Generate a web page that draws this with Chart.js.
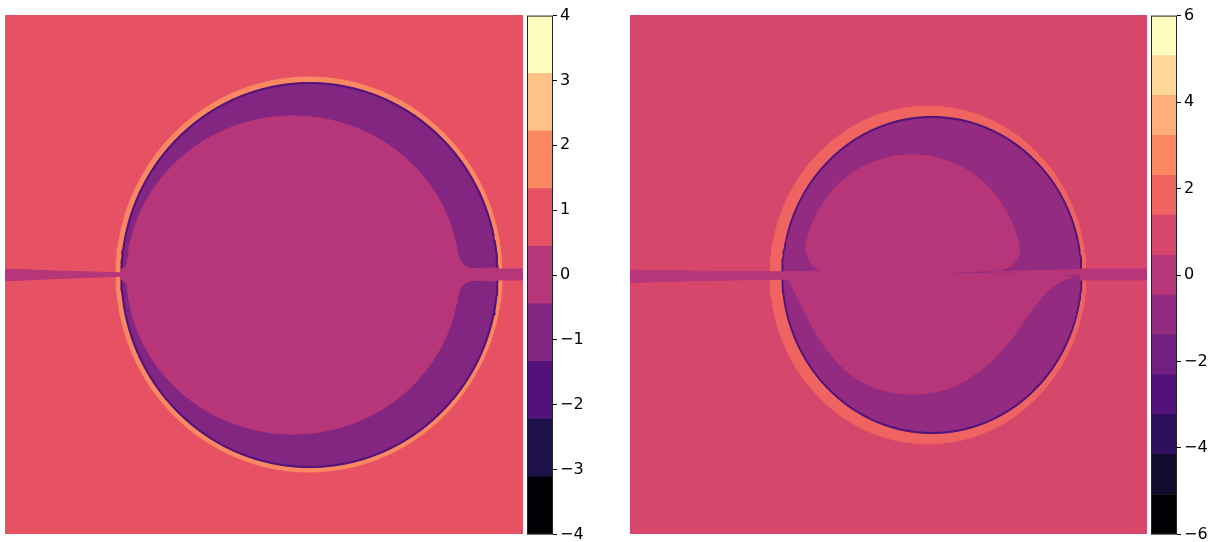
<!DOCTYPE html>
<html>
<head>
<meta charset="utf-8">
<script src="https://cdn.jsdelivr.net/npm/chart.js@4"></script>
<style>
  body { margin: 0; width: 1209px; height: 542px; overflow: hidden; background: #fff; position: relative; }
  canvas { position: absolute; }
</style>
</head>
<body>
<canvas id="mainLeft" width="518" height="519" style="left:5px;top:15px"></canvas>
<canvas id="barLeft" width="66" height="544" style="left:527px;top:3px"></canvas>
<canvas id="mainRight" width="517" height="519" style="left:630px;top:15px"></canvas>
<canvas id="barRight" width="58" height="544" style="left:1151px;top:3px"></canvas>
<script>
// Contour levels and colours
const LEVELS_LEFT = [-4, -3.111, -2.222, -1.333, -0.444, 0.444, 1.333, 2.222, 3.111, 4];
const COLORS_LEFT = ["#000004", "#1D1147", "#51127C", "#822681", "#B63679", "#E65164", "#FB8861", "#FEC287", "#FCFDBF"];
const TICK_STEP_LEFT = 1;

const LEVELS_RIGHT = [-6, -5.077, -4.154, -3.231, -2.308, -1.385, -0.462, 0.462, 1.385, 2.308, 3.231, 4.154, 5.077, 6];
const COLORS_RIGHT = ["#000004", "#110C2E", "#2E0F5D", "#51127C", "#711F81", "#932B80", "#B63679", "#D7466B", "#EF6360", "#FB8861", "#FEAF79", "#FED799", "#FCFDBF"];
const TICK_STEP_RIGHT = 2;

// Left field: ellipses as [cx, cy, rx, ry], contour pieces as [x, y] lists
const L_RING = [0.174, 0.000, 0.745, 0.761];
const L_EDGE = [0.176, -0.002, 0.728, 0.742];
const L_WELL = [0.176, -0.002, 0.720, 0.734];
const L_CORE = [0.112, -0.002, 0.641, 0.613];
const L_STREAK_W = [[-1.01, 0.021], [-0.788, 0.013], [-0.529, 0.006], [-0.529, -0.006], [-0.788, -0.015], [-1.01, -0.025]];
const L_LIP_W = [[-0.479, -0.002], [-0.506, 0.075], [-0.533, 0.033], [-0.552, 0.017], [-0.552, -0.017], [-0.533, -0.033], [-0.506, -0.075]];
const L_LIP_E = [[0.680, -0.002], [0.737, 0.114], [0.753, 0.064], [0.772, 0.037], [0.803, 0.023], [0.907, 0.021],
  [0.907, -0.021], [0.803, -0.023], [0.772, -0.037], [0.753, -0.064], [0.737, -0.114]];
const L_STREAK_E = [[0.900, 0.021], [1.01, 0.021], [1.01, -0.021], [0.900, -0.021]];

// Right field
const R_RING = [0.153, -0.002, 0.611, 0.651];
const R_EDGE = [0.168, -0.002, 0.580, 0.611];
const R_WELL = [0.168, -0.002, 0.573, 0.603];
const R_UPPER = [[-0.296, 0.037], [-0.319, 0.087], [-0.315, 0.133], [-0.280, 0.229], [-0.215, 0.326], [-0.122, 0.403], [-0.006, 0.449],
  [0.091, 0.461], [0.188, 0.449], [0.304, 0.403], [0.397, 0.326], [0.462, 0.229], [0.501, 0.133], [0.505, 0.075], [0.478, 0.037],
  [0.431, 0.017], [0.045, 0.008], [-0.246, 0.008]];
const R_LOWER = [[-0.393, -0.010], [-0.362, -0.067], [-0.319, -0.156], [-0.257, -0.264], [-0.168, -0.368], [-0.052, -0.437], [0.091, -0.461],
  [0.238, -0.437], [0.373, -0.356], [0.478, -0.245], [0.559, -0.129], [0.625, -0.056], [0.671, -0.025], [0.709, -0.008],
  [0.431, 0.002], [0.045, 0.010], [-0.381, 0.010]];
const R_STREAK_W = [[-1.01, 0.017], [-0.729, 0.013], [-0.342, 0.010], [-0.342, -0.017], [-0.729, -0.023], [-1.01, -0.031]];
const R_STREAK_MID = [[0.393, 0.010], [0.586, 0.015], [0.760, 0.019], [0.760, -0.002], [0.586, 0.002], [0.393, 0.008]];
const R_STREAK_E = [[0.741, 0.021], [1.01, 0.021], [1.01, -0.021], [0.741, -0.021]];

// Fill the plot area with the background level colour
const plotBg = {
  id: "plotBg",
  beforeDatasetsDraw(chart, args, opts) {
    const { ctx, chartArea: a } = chart;
    ctx.save();
    ctx.fillStyle = opts.color;
    ctx.fillRect(a.left, a.top, a.width, a.height);
    ctx.restore();
  },
};

// Thin frame round the colour bar
const barFrame = {
  id: "barFrame",
  afterDatasetsDraw(chart) {
    const { ctx, chartArea: a } = chart;
    ctx.save();
    ctx.strokeStyle = "#222";
    ctx.lineWidth = 1;
    ctx.strokeRect(a.left + 0.5, a.top + 0.5, a.width - 1, a.height - 1);
    ctx.restore();
  },
};

function ellipse(e, n = 240) {
  const [cx, cy, rx, ry] = e;
  const pts = [];
  for (let i = 0; i <= n; i++) {
    const t = (2 * Math.PI * i) / n;
    pts.push({ x: cx + rx * Math.cos(t), y: cy + ry * Math.sin(t) });
  }
  return pts;
}

function poly(arr) {
  const pts = arr.map(([x, y]) => ({ x, y }));
  pts.push({ ...pts[0] });
  return pts;
}

function layer(points, color, tension = 0) {
  return {
    data: points,
    backgroundColor: color,
    borderColor: color,
    borderWidth: 1,
    fill: "shape",
    pointRadius: 0,
    tension,
  };
}

function drawPanel(id, bg, layers) {
  new Chart(document.getElementById(id), {
    type: "line",
    data: { datasets: layers.map((l, i) => ({ ...l, order: layers.length - i })) },
    options: {
      responsive: false,
      animation: false,
      events: [],
      layout: { padding: 0 },
      plugins: { legend: { display: false }, tooltip: { enabled: false }, plotBg: { color: bg } },
      scales: {
        x: { type: "linear", min: -1, max: 1, display: false },
        y: { type: "linear", min: -1, max: 1, display: false },
      },
    },
    plugins: [plotBg],
  });
}

function drawColorbar(id, levels, colors, step, axisWidth) {
  new Chart(document.getElementById(id), {
    type: "bar",
    data: {
      labels: [""],
      datasets: colors.map((c, i) => ({
        data: [[levels[i], levels[i + 1]]],
        backgroundColor: c,
        borderWidth: 0,
        barPercentage: 1,
        categoryPercentage: 1,
        grouped: false,
      })),
    },
    options: {
      responsive: false,
      animation: false,
      events: [],
      layout: { padding: { top: 12, bottom: 12, left: 0, right: 0 } },
      plugins: { legend: { display: false }, tooltip: { enabled: false } },
      scales: {
        x: { display: false },
        y: {
          position: "right",
          min: levels[0],
          max: levels[levels.length - 1],
          afterFit: (s) => { s.width = axisWidth; },
          grid: { drawOnChartArea: false, drawTicks: true, tickLength: 4, color: "#000" },
          border: { display: false },
          ticks: {
            stepSize: step,
            padding: 3,
            color: "#000",
            font: { family: "DejaVu Sans", size: 16 },
            callback: (v) => (v < 0 ? "\u2212" + Math.abs(v) : String(v)),
          },
        },
      },
    },
    plugins: [barFrame],
  });
}

// Left panel
drawPanel("mainLeft", COLORS_LEFT[5], [
  layer(ellipse(L_RING), COLORS_LEFT[6]),
  layer(ellipse(L_EDGE), COLORS_LEFT[2]),
  layer(ellipse(L_WELL), COLORS_LEFT[3]),
  layer(ellipse(L_CORE), COLORS_LEFT[4]),
  layer(poly(L_LIP_W), COLORS_LEFT[4], 0.3),
  layer(poly(L_LIP_E), COLORS_LEFT[4], 0.35),
  layer(poly(L_STREAK_W), COLORS_LEFT[4]),
  layer(poly(L_STREAK_E), COLORS_LEFT[4]),
]);
drawColorbar("barLeft", LEVELS_LEFT, COLORS_LEFT, TICK_STEP_LEFT, 40);

// Right panel
drawPanel("mainRight", COLORS_RIGHT[7], [
  layer(ellipse(R_RING), COLORS_RIGHT[8]),
  layer(ellipse(R_EDGE), COLORS_RIGHT[3]),
  layer(ellipse(R_WELL), COLORS_RIGHT[5]),
  layer(poly(R_UPPER), COLORS_RIGHT[6], 0.3),
  layer(poly(R_LOWER), COLORS_RIGHT[6], 0.3),
  layer(poly(R_STREAK_W), COLORS_RIGHT[6]),
  layer(poly(R_STREAK_MID), COLORS_RIGHT[6]),
  layer(poly(R_STREAK_E), COLORS_RIGHT[6]),
]);
drawColorbar("barRight", LEVELS_RIGHT, COLORS_RIGHT, TICK_STEP_RIGHT, 32);
</script>
</body>
</html>
